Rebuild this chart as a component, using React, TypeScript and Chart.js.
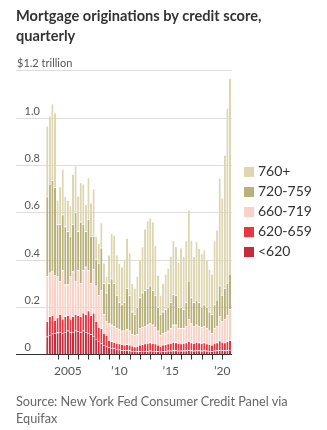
import React, { useEffect, useRef } from "react";
import { Chart, registerables } from "chart.js";

Chart.register(...registerables);

// ---- Data (trillions of dollars), quarterly 2003 Q1 – 2020 Q4 ----
const years = [2003, 2004, 2005, 2006, 2007, 2008, 2009, 2010, 2011, 2012, 2013, 2014, 2015, 2016, 2017, 2018, 2019, 2020];
const quarterNames = ["Q1", "Q2", "Q3", "Q4"];
const categories: string[] = [];
years.forEach((y) => quarterNames.forEach((q) => categories.push(`${y} ${q}`)));

const below620 = [
  0.075, 0.082, 0.088, 0.09, 0.092, 0.095, 0.09, 0.095, 0.1, 0.093, 0.095, 0.1, 0.098, 0.094, 0.1, 0.095,
  0.09, 0.085, 0.078, 0.065, 0.055, 0.048, 0.04, 0.035, 0.03, 0.027, 0.025, 0.022, 0.02, 0.018, 0.017, 0.017,
  0.016, 0.014, 0.013, 0.013, 0.013, 0.013, 0.014, 0.014, 0.015, 0.014, 0.014, 0.013, 0.012, 0.013, 0.014, 0.015,
  0.015, 0.016, 0.016, 0.015, 0.015, 0.015, 0.016, 0.017, 0.016, 0.015, 0.016, 0.016, 0.015, 0.016, 0.015, 0.014,
  0.013, 0.015, 0.016, 0.018, 0.017, 0.016, 0.017, 0.019,
];
const s620to659 = [
  0.065, 0.078, 0.077, 0.055, 0.063, 0.075, 0.06, 0.065, 0.065, 0.057, 0.065, 0.07, 0.067, 0.066, 0.075, 0.075,
  0.095, 0.08, 0.097, 0.075, 0.06, 0.062, 0.05, 0.045, 0.03, 0.028, 0.027, 0.026, 0.025, 0.025, 0.023, 0.025,
  0.024, 0.022, 0.02, 0.022, 0.027, 0.029, 0.031, 0.034, 0.035, 0.034, 0.031, 0.027, 0.023, 0.027, 0.028, 0.03,
  0.033, 0.036, 0.034, 0.033, 0.03, 0.033, 0.034, 0.038, 0.034, 0.033, 0.036, 0.034, 0.033, 0.034, 0.03, 0.029,
  0.027, 0.033, 0.034, 0.04, 0.035, 0.034, 0.038, 0.041,
];
const s660to719 = [
  0.19, 0.185, 0.185, 0.19, 0.175, 0.14, 0.205, 0.135, 0.13, 0.18, 0.19, 0.14, 0.19, 0.14, 0.18, 0.2,
  0.17, 0.135, 0.185, 0.15, 0.135, 0.16, 0.08, 0.06, 0.07, 0.07, 0.068, 0.062, 0.06, 0.057, 0.06, 0.063,
  0.06, 0.049, 0.047, 0.05, 0.07, 0.073, 0.075, 0.077, 0.08, 0.077, 0.07, 0.06, 0.045, 0.05, 0.053, 0.055,
  0.062, 0.073, 0.075, 0.062, 0.065, 0.062, 0.07, 0.095, 0.08, 0.072, 0.073, 0.07, 0.067, 0.07, 0.065, 0.057,
  0.05, 0.062, 0.07, 0.102, 0.088, 0.1, 0.11, 0.13,
];
const s720to759 = [
  0.336, 0.375, 0.385, 0.37, 0.22, 0.24, 0.235, 0.245, 0.225, 0.17, 0.2, 0.29, 0.165, 0.26, 0.195, 0.15,
  0.215, 0.2, 0.14, 0.11, 0.135, 0.18, 0.13, 0.12, 0.17, 0.195, 0.18, 0.14, 0.115, 0.11, 0.12, 0.175,
  0.15, 0.095, 0.09, 0.115, 0.13, 0.145, 0.15, 0.155, 0.16, 0.145, 0.135, 0.1, 0.09, 0.09, 0.095, 0.1,
  0.11, 0.13, 0.125, 0.09, 0.09, 0.08, 0.1, 0.16, 0.11, 0.1, 0.105, 0.1, 0.085, 0.09, 0.09, 0.08,
  0.08, 0.1, 0.11, 0.13, 0.11, 0.13, 0.135, 0.15,
];
const s760plus = [
  0.299, 0.287, 0.323, 0.315, 0.102, 0.159, 0.193, 0.127, 0.132, 0.128, 0.211, 0.196, 0.149, 0.165, 0.17, 0.114,
  0.177, 0.14, 0.199, 0.1, 0.085, 0.107, 0.086, 0.07, 0.12, 0.191, 0.204, 0.17, 0.165, 0.16, 0.18, 0.21,
  0.18, 0.12, 0.11, 0.13, 0.16, 0.195, 0.26, 0.285, 0.288, 0.29, 0.21, 0.135, 0.08, 0.12, 0.15, 0.165,
  0.195, 0.225, 0.205, 0.19, 0.25, 0.225, 0.26, 0.3, 0.243, 0.193, 0.246, 0.228, 0.227, 0.231, 0.2, 0.18,
  0.17, 0.27, 0.296, 0.454, 0.41, 0.562, 0.74, 0.826,
];

const seriesNames = ["<620", "620-659", "660-719", "720-759", "760+"];
const seriesColors = ["#c62a3b", "#ea3440", "#f9d1c6", "#b8b17b", "#ddd6b1"];

const yTickValues = [0, 0.2, 0.4, 0.6, 0.8, 1.0, 1.2];
const yTickLabels = ["0", "0.2", "0.4", "0.6", "0.8", "1.0", "$1.2 trillion"];
const xTickYears = [2004, 2005, 2006, 2007, 2008, 2009, 2010, 2011, 2012, 2013, 2014, 2015, 2016, 2017, 2018, 2019, 2020];
const xLabelYears = [2005, 2010, 2015, 2020];
const xLabelTexts = ["2005", "\u201910", "\u201915", "\u201920"];

const FONT = "Lato, 'Open Sans', sans-serif";

const axisPlugin = {
  id: "wsjAxis",
  beforeDatasetsDraw(chart: any) {
    const { ctx, scales } = chart;
    const y = scales.y;
    ctx.save();
    ctx.strokeStyle = "#dedede";
    ctx.lineWidth = 1;
    yTickValues.forEach((v) => {
      if (v === 0) return;
      const py = Math.round(y.getPixelForValue(v)) + 0.5;
      ctx.beginPath();
      ctx.moveTo(16, py);
      ctx.lineTo(232, py);
      ctx.stroke();
    });
    ctx.fillStyle = "#555";
    ctx.font = `11px ${FONT}`;
    ctx.textBaseline = "alphabetic";
    ctx.textAlign = "left";
    yTickValues.forEach((v, i) => {
      const py = y.getPixelForValue(v);
      const x = i === yTickValues.length - 1 ? 17 : 24.5;
      ctx.fillText(yTickLabels[i], x, py - 3);
    });
    ctx.restore();
  },
  afterDatasetsDraw(chart: any) {
    const { ctx, scales } = chart;
    const y = scales.y;
    const x = scales.x;
    const y0 = Math.round(y.getPixelForValue(0)) + 0.5;
    ctx.save();
    ctx.strokeStyle = "#333";
    ctx.lineWidth = 1;
    ctx.beginPath();
    ctx.moveTo(16, y0);
    ctx.lineTo(232, y0);
    ctx.stroke();
    xTickYears.forEach((yr) => {
      const idx = categories.indexOf(`${yr} Q1`);
      const px = Math.round(x.getPixelForValue(idx)) + 0.5;
      ctx.beginPath();
      ctx.moveTo(px, y0);
      ctx.lineTo(px, y0 + 5);
      ctx.stroke();
    });
    ctx.fillStyle = "#555";
    ctx.font = `12px ${FONT}`;
    ctx.textAlign = "center";
    ctx.textBaseline = "alphabetic";
    xLabelYears.forEach((yr, i) => {
      const idx = categories.indexOf(`${yr} Q1`);
      const px = x.getPixelForValue(idx);
      ctx.fillText(xLabelTexts[i], px, 375);
    });
    ctx.restore();
  },
};

function ChartCanvas() {
  const ref = useRef<HTMLCanvasElement | null>(null);
  useEffect(() => {
    if (!ref.current) return;
    const values = [below620, s620to659, s660to719, s720to759, s760plus];
    const chart = new Chart(ref.current, {
      type: "bar",
      data: {
        labels: categories,
        datasets: seriesNames.map((name, i) => ({
          label: name,
          data: values[i],
          backgroundColor: seriesColors[i],
          borderColor: "#ffffff",
          borderWidth: { top: 0.6, left: 0, right: 0, bottom: 0 },
          borderSkipped: false,
          barPercentage: 1,
          categoryPercentage: 0.82,
        })),
      },
      options: {
        responsive: false,
        animation: false,
        devicePixelRatio: 1,
        layout: { padding: { left: 46, right: 95.7, top: 70.3, bottom: 75.6 } },
        plugins: { legend: { display: false }, tooltip: { enabled: false }, title: { display: false } },
        scales: {
          x: { stacked: true, display: false },
          y: { stacked: true, display: false, min: 0, max: 1.2 },
        },
      },
      plugins: [axisPlugin],
    } as any);
    return () => chart.destroy();
  }, []);
  return (
    <canvas
      ref={ref}
      width={327}
      height={430}
      style={{ position: "absolute", left: 0, top: 0, width: 327, height: 430 }}
    />
  );
}

export default function App() {
  const legendOrder = [4, 3, 2, 1, 0];
  return (
    <div
      style={{
        position: "absolute",
        left: 0,
        top: 0,
        width: 327,
        height: 430,
        background: "#fff",
        fontFamily: FONT,
        overflow: "hidden",
      }}
    >
      <ChartCanvas />
      <div
        style={{
          position: "absolute",
          left: 16,
          top: 6,
          width: 305,
          fontSize: 14.6,
          lineHeight: "20px",
          fontWeight: 700,
          color: "#333",
        }}
      >
        Mortgage originations by credit score,
        <br />
        quarterly
      </div>
      {legendOrder.map((si, row) => (
        <div
          key={si}
          style={{ position: "absolute", left: 244, top: 161.3 + row * 20, height: 20, lineHeight: "20px", fontSize: 14, color: "#333", whiteSpace: "nowrap" }}
        >
          <span
            style={{ position: "absolute", left: 0, top: 5.4, width: 9.5, height: 10, background: seriesColors[si] }}
          />
          <span style={{ position: "absolute", left: 14, top: 0 }}>{seriesNames[si]}</span>
        </div>
      ))}
      <div
        style={{
          position: "absolute",
          left: 16,
          top: 393.3,
          width: 310,
          fontSize: 12.7,
          lineHeight: "17px",
          color: "#666",
        }}
      >
        Source: New York Fed Consumer Credit Panel via
        <br />
        Equifax
      </div>
    </div>
  );
}
